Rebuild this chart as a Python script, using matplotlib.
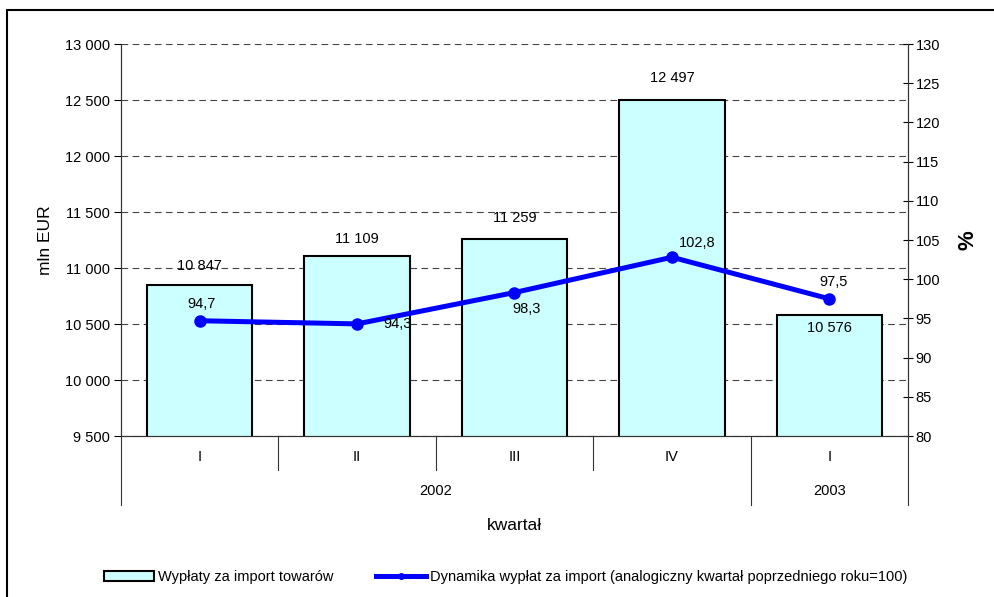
import matplotlib
matplotlib.use("Agg")
import matplotlib.pyplot as plt
from matplotlib.ticker import FuncFormatter, MultipleLocator
from matplotlib.patches import Rectangle
from matplotlib.lines import Line2D

plt.rcParams['font.family'] = ['Liberation Sans', 'DejaVu Sans']

# ---- data ----
quarters = ["I", "II", "III", "IV", "I"]
years = ["2002", "2002", "2002", "2002", "2003"]
import_payments = [10847, 11109, 11259, 12497, 10576]
dynamics = [94.7, 94.3, 98.3, 102.8, 97.5]
bar_label = "Wypłaty za import towarów"
line_label = "Dynamika wypłat za import (analogiczny kwartał poprzedniego roku=100)"
x_title = "kwartał"
y_title = "mln EUR"
y2_title = "%"

def fmt_thousands(v, pos=None):
    s = f"{int(round(v)):,}".replace(",", " ")
    return s

def fmt_dec(v):
    return f"{v:.1f}".replace(".", ",")

# label offsets (points): bars, line
bar_offsets = [(0, 14), (0, 12), (0, 15), (0, 16), (0, -9)]
line_offsets = [(1, 12), (29, 0), (9, -12), (18, 10), (3, 12)]

W, H = 995, 597
fig = plt.figure(figsize=(W / 100, H / 100), dpi=100)
fig.patch.set_facecolor("white")

left, right, top, bottom = 121, 908, 44, 436
ax = fig.add_axes([left / W, 1 - bottom / H, (right - left) / W, (bottom - top) / H])
ax2 = ax.twinx()

xs = list(range(len(quarters)))
fs = 10.5

ax.set_axisbelow(True)
bars = ax.bar(xs, import_payments, width=0.67, color="#CCFFFF", edgecolor="black",
              linewidth=1.5, zorder=2, label=bar_label)
ax.set_ylim(9500, 13000)
ax.set_xlim(-0.5, len(quarters) - 0.5)
ax.yaxis.set_major_locator(MultipleLocator(500))
ax.yaxis.set_major_formatter(FuncFormatter(fmt_thousands))
ax.grid(axis="y", color="#444444", linestyle=(0, (6, 4)), linewidth=0.8)
ax.set_xticks([])
ax.tick_params(axis="y", direction="out", length=5, width=0.8, labelsize=fs, pad=3)

for xi, v, off in zip(xs, import_payments, bar_offsets):
    ax.annotate(fmt_thousands(v), (xi, v), xytext=off, textcoords="offset points",
                ha="center", va="center", fontsize=fs, zorder=5)

line, = ax2.plot(xs, dynamics, color="#0000FF", linewidth=3.6, marker="o",
                 markersize=8, zorder=4, label=line_label)
ax2.set_ylim(80, 130)
ax2.yaxis.set_major_locator(MultipleLocator(5))
ax2.tick_params(axis="y", direction="inout", length=7, width=0.8, labelsize=fs, pad=2)
for xi, v, off in zip(xs, dynamics, line_offsets):
    ax2.annotate(fmt_dec(v), (xi, v), xytext=off, textcoords="offset points",
                 ha="center", va="center", fontsize=fs, zorder=5)

for a in (ax, ax2):
    a.spines["top"].set_visible(False)
    for s in ("left", "right", "bottom"):
        a.spines[s].set_linewidth(0.8)
        a.spines[s].set_color("#333333")

# category separators below the axis
trans = ax.get_xaxis_transform()
q_depth = -34 / (bottom - top)
y_depth = -69 / (bottom - top)
boundaries = [-0.5] + [i + 0.5 for i in xs]
for i, b in enumerate(boundaries):
    is_year = (i == 0 or i == len(xs) or years[i - 1] != years[i])
    d = y_depth if is_year else q_depth
    ax.plot([b, b], [0, d], transform=trans, color="#333333", linewidth=0.8, clip_on=False)

for xi, q in zip(xs, quarters):
    ax.text(xi, -21 / (bottom - top), q, transform=trans, ha="center", va="center", fontsize=fs)

uniq_years = []
for y in years:
    if y not in uniq_years:
        uniq_years.append(y)
for y in uniq_years:
    idx = [i for i, yy in enumerate(years) if yy == y]
    cx = (idx[0] + idx[-1]) / 2
    ax.text(cx, -55 / (bottom - top), y, transform=trans, ha="center", va="center", fontsize=fs)

ax.text(0.5, -89 / (bottom - top), x_title, transform=ax.transAxes, ha="center",
        va="center", fontsize=12.5)
ax.text((45 - left) / (right - left), 0.5, y_title, transform=ax.transAxes, rotation=90,
        ha="center", va="center", fontsize=12.5)
ax.text((968 - left) / (right - left), (bottom - 240) / (bottom - top), y2_title,
        transform=ax.transAxes, rotation=90, ha="center", va="center",
        fontsize=16, fontweight="bold")

line_handle = Line2D([], [], color="#0000FF", linewidth=3.6, marker="o", markersize=4)
leg = fig.legend([bars, line_handle], [bar_label, line_label], ncol=2, loc="center left",
                 bbox_to_anchor=(104 / W, 1 - 577 / H), frameon=False, fontsize=10.5,
                 borderpad=0, borderaxespad=0, handlelength=3.4, handletextpad=0.27,
                 columnspacing=2.95, numpoints=1)

# outer chart frame
fig.patches.append(Rectangle((7 / W, -0.01), 1.0, 1 - 10 / H + 0.01, transform=fig.transFigure,
                             fill=False, edgecolor="black", linewidth=1.5))

fig.savefig("out.png", dpi=100, facecolor="white")
